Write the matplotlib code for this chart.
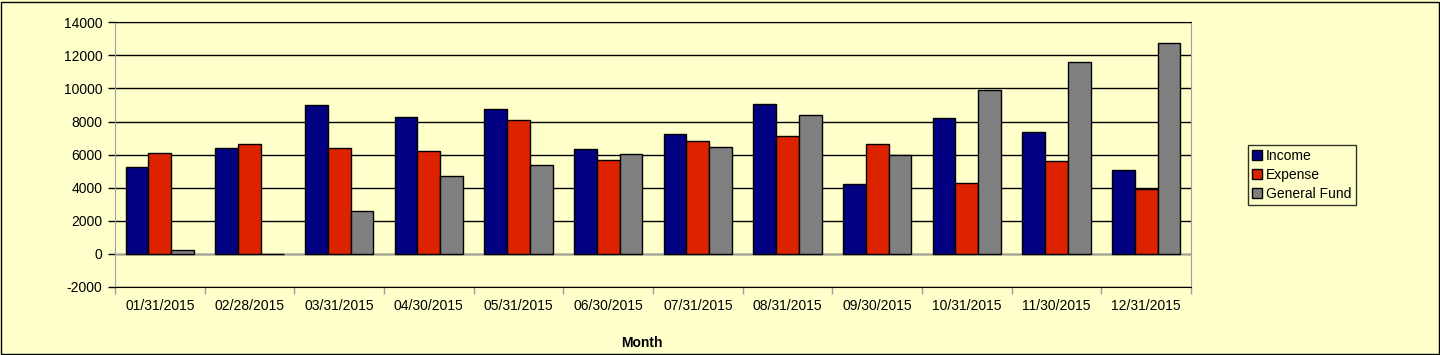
import numpy as np
import matplotlib
matplotlib.use("Agg")
import matplotlib.pyplot as plt
from matplotlib.patches import Rectangle

# ---------------- Data ----------------
months = ["01/31/2015", "02/28/2015", "03/31/2015", "04/30/2015", "05/31/2015", "06/30/2015",
          "07/31/2015", "08/31/2015", "09/30/2015", "10/31/2015", "11/30/2015", "12/31/2015"]
income = [5250, 6380, 9000, 8250, 8750, 6330, 7230, 9050, 4220, 8200, 7350, 5080]
expense = [6080, 6620, 6380, 6200, 8080, 5660, 6800, 7100, 6620, 4280, 5600, 3920]
general_fund = [250, 20, 2600, 4700, 5370, 6020, 6450, 8380, 5980, 9880, 11580, 12730]

series_names = ["Income", "Expense", "General Fund"]
colors = ["#000080", "#DD2200", "#808080"]

# ---------------- Plot ----------------
plt.rcParams['font.family'] = ['Liberation Sans', 'DejaVu Sans']
plt.rcParams['axes.unicode_minus'] = False
bg = "#FFFFCC"
fs = 10

fig = plt.figure(figsize=(14.4, 3.55), dpi=100, facecolor=bg)
ax = fig.add_axes([115 / 1440, 68 / 355, (1191 - 115) / 1440, (332.7 - 68) / 355])
ax.set_facecolor(bg)

x = np.arange(len(months))
width = 0.254
for i, (vals, name, col) in enumerate(zip([income, expense, general_fund], series_names, colors)):
    ax.bar(x + (i - 1) * width, vals, width, color=col, edgecolor="black", linewidth=1,
           label=name, zorder=3)

ax.axhline(0, color="#A0A0A0", linewidth=1, zorder=2)

ax.set_xlim(-0.5, len(months) - 0.5)
ax.set_ylim(-2000, 14000)
ax.set_yticks(np.arange(-2000, 14001, 2000))
ax.yaxis.grid(True, color="black", linewidth=1)
ax.set_axisbelow(True)

ax.set_xticks(x)
ax.set_xticklabels(months, fontsize=fs)
ax.tick_params(axis="x", which="major", length=0, pad=9)
ax.set_xticks(np.arange(-0.5, len(months), 1), minor=True)
ax.tick_params(axis="x", which="minor", length=5, color="#A0A0A0", width=1)
ax.tick_params(axis="y", length=5, color="black", width=1, pad=4, labelsize=fs)

for side in ["left", "right"]:
    ax.spines[side].set_color("#A0A0A0")
for side in ["top", "bottom"]:
    ax.spines[side].set_color("black")

fig.text(642 / 1440, (355 - 343) / 355, "Month", fontsize=fs, fontweight="bold",
         ha="center", va="center")

leg = ax.legend(loc="center left", bbox_to_anchor=(1248 / 1440, (355 - 175) / 355),
                bbox_transform=fig.transFigure, frameon=True, fancybox=False,
                edgecolor="black", facecolor=bg, fontsize=fs, handlelength=0.7,
                handleheight=0.7, handletextpad=0.3, borderpad=0.3, labelspacing=0.35,
                borderaxespad=0)
leg.get_frame().set_linewidth(1)

fig.patches.append(Rectangle((0.5 / 1440, 1.5 / 355), 1438 / 1440, 352 / 355,
                             transform=fig.transFigure, fill=False, edgecolor="black",
                             linewidth=1))

fig.savefig("out.png", dpi=100, facecolor=bg)
